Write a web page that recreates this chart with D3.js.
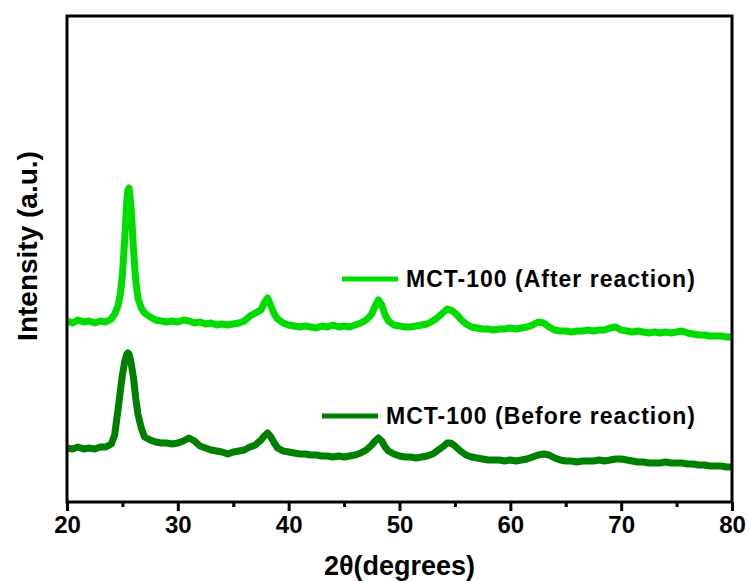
<!DOCTYPE html>
<html>
<head>
<meta charset="utf-8">
<script src="https://cdn.jsdelivr.net/npm/d3@7"></script>
<style>
  body { margin: 0; background: #fff; }
  text { font-family: Arial, "Liberation Sans", sans-serif; font-weight: bold; }
</style>
</head>
<body>
<script>
// canvas size
var width = 750;
var height = 581;

// plot frame
var plotLeft = 67, plotRight = 732, plotTop = 16, plotBottom = 502;

// 2theta values (degrees), shared by both patterns
var twoTheta = [20, 20.5, 21, 21.5, 22, 22.5, 23, 23.5, 24,
  24.3, 24.6, 24.8, 25, 25.2, 25.4, 25.5, 25.6, 25.8, 26, 26.2, 26.4, 26.7, 27,
  27.5, 28, 28.5, 29, 29.5, 30, 30.5, 31, 31.5, 32, 32.5, 33, 33.5, 34, 34.5, 35, 35.5, 36, 36.5, 37, 37.5,
  37.8, 38.1, 38.4, 38.7,
  39, 39.5, 40, 40.5, 41, 41.5, 42, 42.5, 43, 43.5, 44, 44.5, 45, 45.5, 46, 46.5, 47, 47.5,
  47.8, 48.1, 48.4, 48.7,
  49, 49.5, 50, 50.5, 51, 51.5, 52, 52.5, 53, 53.5, 54,
  54.3, 54.6, 54.9, 55.2,
  55.5, 56, 56.5, 57, 57.5, 58, 58.5, 59, 59.5, 60, 60.5, 61, 61.5, 62, 62.5, 63, 63.5, 64, 64.5, 65,
  65.5, 66, 66.5, 67, 67.5, 68, 68.5, 69, 69.5, 70, 70.5, 71, 71.5, 72, 72.5, 73, 73.5, 74, 74.5, 75,
  75.5, 76, 76.5, 77, 77.5, 78, 78.5, 79, 79.5, 80];

// MCT-100 after reaction (offset upward)
var afterReaction = [179, 177, 180, 178, 179, 177, 179, 178, 181,
  186, 194, 205, 225, 260, 300, 310, 312, 290, 250, 220, 202, 192, 187,
  183, 180, 179, 178, 179, 178, 180, 179, 177, 178, 176, 177, 175, 176, 175, 176, 177, 179, 184, 187, 190,
  197, 202, 194, 186,
  181, 177, 175, 174, 173, 174, 173, 172, 174, 173, 175, 173, 174, 173, 175, 177, 180, 186,
  194, 200, 195, 185,
  179, 175, 174, 173, 173, 174, 175, 176, 179, 183, 188,
  191, 190, 188, 185,
  181, 176, 173, 172, 171, 171, 170, 171, 171, 172, 171, 172, 173, 175, 178, 177, 173, 170, 169, 169,
  168, 169, 169, 170, 169, 170, 170, 172, 173, 170, 169, 168, 169, 168, 167, 168, 167, 168, 167, 168,
  169, 167, 166, 165, 165, 164, 164, 164, 163, 163];

// MCT-100 before reaction
var beforeReaction = [52, 51, 53, 51, 52, 51, 53, 53, 56,
  65, 90, 108, 125, 138, 146, 147, 146, 136, 122, 102, 86, 72, 63,
  60, 58, 57, 57, 56, 57, 59, 62, 59, 54, 52, 50, 49, 48, 46, 48, 49, 50, 53, 55, 60,
  64, 67, 63, 57,
  52, 49, 48, 47, 46, 46, 45, 45, 44, 44, 43, 44, 43, 44, 45, 47, 50, 55,
  59, 62, 59, 53,
  49, 46, 44, 43, 43, 42, 43, 44, 46, 50, 54,
  57, 57, 55, 52,
  49, 45, 43, 42, 41, 40, 40, 40, 39, 40, 39, 40, 41, 43, 45, 46, 45, 42, 40, 39,
  39, 38, 39, 39, 39, 40, 39, 40, 41, 41, 40, 39, 38, 38, 37, 37, 37, 38, 37, 37,
  37, 36, 36, 35, 35, 34, 34, 34, 33, 33];

var seriesNames = ["MCT-100 (After reaction)", "MCT-100 (Before reaction)"];
var seriesColors = ["#00dc00", "#008000"];

var xTicks = [20, 30, 40, 50, 60, 70, 80];
var xMinorTicks = [25, 35, 45, 55, 65, 75];

var x = d3.scaleLinear().domain([20, 80]).range([plotLeft, plotRight]);
var y = d3.scaleLinear().domain([-2, 484]).range([plotBottom, plotTop]);

var svg = d3.select("body")
  .append("svg")
  .attr("width", width)
  .attr("height", height);

svg.append("clipPath")
  .attr("id", "plotClip")
  .append("rect")
  .attr("x", plotLeft)
  .attr("y", plotTop)
  .attr("width", plotRight - plotLeft)
  .attr("height", plotBottom - plotTop);

var line = d3.line()
  .x(function(d) { return x(d[0]); })
  .y(function(d) { return y(d[1]); });

[afterReaction, beforeReaction].forEach(function(vals, i) {
  var pts = twoTheta.map(function(t, j) { return [t, vals[j]]; });
  svg.append("path")
    .attr("clip-path", "url(#plotClip)")
    .attr("d", line(pts))
    .attr("fill", "none")
    .attr("stroke", seriesColors[i])
    .attr("stroke-width", 7)
    .attr("stroke-linejoin", "round")
    .attr("stroke-linecap", "round");
});

// bottom axis ticks
var xAxis = d3.axisBottom(x).tickValues(xTicks).tickSize(9).tickPadding(5);
var gx = svg.append("g")
  .attr("transform", "translate(0," + plotBottom + ")")
  .call(xAxis);
gx.select(".domain").remove();
gx.selectAll(".tick line").attr("stroke", "#000").attr("stroke-width", 3);
gx.selectAll(".tick text")
  .style("font-size", "24px")
  .style("font-family", "Arial, 'Liberation Sans', sans-serif")
  .style("font-weight", "bold")
  .attr("fill", "#000");

var xMinor = d3.axisBottom(x).tickValues(xMinorTicks).tickSize(5).tickFormat("");
var gm = svg.append("g")
  .attr("transform", "translate(0," + plotBottom + ")")
  .call(xMinor);
gm.select(".domain").remove();
gm.selectAll(".tick line").attr("stroke", "#000").attr("stroke-width", 3);

// frame
svg.append("rect")
  .attr("x", plotLeft)
  .attr("y", plotTop)
  .attr("width", plotRight - plotLeft)
  .attr("height", plotBottom - plotTop)
  .attr("fill", "none")
  .attr("stroke", "#000")
  .attr("stroke-width", 3);

// axis titles
svg.append("text")
  .attr("x", (plotLeft + plotRight) / 2)
  .attr("y", 575)
  .attr("text-anchor", "middle")
  .style("font-size", "27px")
  .text("2θ(degrees)");

svg.append("text")
  .attr("transform", "translate(37,246) rotate(-90)")
  .attr("text-anchor", "middle")
  .style("font-size", "28px")
  .text("Intensity (a.u.)");

// legends
var legendPos = [[342, 279], [322, 416]];
seriesNames.forEach(function(name, i) {
  var p = legendPos[i];
  svg.append("line")
    .attr("x1", p[0]).attr("x2", p[0] + 56)
    .attr("y1", p[1]).attr("y2", p[1])
    .attr("stroke", seriesColors[i])
    .attr("stroke-width", 5);
  svg.append("text")
    .attr("x", p[0] + 64)
    .attr("y", p[1] + 8)
    .style("font-size", "23px")
    .style("letter-spacing", "1px")
    .text(name);
});
</script>
</body>
</html>
